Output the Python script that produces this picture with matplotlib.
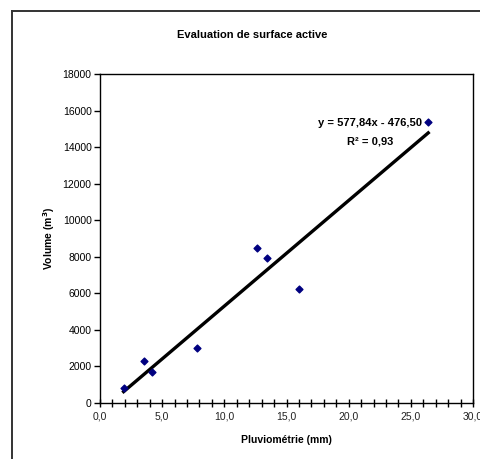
import numpy as np
import matplotlib
matplotlib.use("Agg")
import matplotlib.pyplot as plt
import matplotlib.ticker as mticker
from matplotlib.lines import Line2D

plt.rcParams["font.family"] = ["Liberation Sans", "DejaVu Sans"]

# data
pluvio = [1.9, 3.5, 4.2, 7.8, 12.6, 13.4, 16.0, 26.4]
volume = [800, 2300, 1700, 3000, 8500, 7950, 6250, 15400]
slope = 577.84
intercept = -476.50
r2 = 0.93

fig = plt.figure(figsize=(4.81, 4.59), dpi=100)
fig.patch.set_facecolor("white")

# outer chart border (left and top visible)
fig.add_artist(Line2D([12 / 481, 12 / 481], [0, 1 - 11 / 459],
                      transform=fig.transFigure, color="#333333", lw=1.4))
fig.add_artist(Line2D([12 / 481, 1], [1 - 11 / 459, 1 - 11 / 459],
                      transform=fig.transFigure, color="#333333", lw=1.4))

ax = fig.add_axes([100 / 481, 1 - 403 / 459, 373 / 481, 329 / 459])

ax.scatter(pluvio, volume, marker="D", s=12, color="#000080", zorder=3)

xs = np.array([min(pluvio), max(pluvio)])
ax.plot(xs, slope * xs + intercept, color="black", lw=2.4, zorder=2)

ax.set_xlim(0, 30)
ax.set_ylim(0, 18000)
ax.xaxis.set_major_locator(mticker.MultipleLocator(5))
ax.xaxis.set_minor_locator(mticker.MultipleLocator(1))
ax.yaxis.set_major_locator(mticker.MultipleLocator(2000))
ax.xaxis.set_major_formatter(
    mticker.FuncFormatter(lambda v, p: f"{v:.1f}".replace(".", ",")))

for sp in ax.spines.values():
    sp.set_color("black")
    sp.set_linewidth(1.0)

ax.tick_params(axis="x", which="both", direction="inout", length=6,
               width=1, labelsize=7.5, colors="black", pad=3)
ax.tick_params(axis="y", which="major", direction="out", length=4,
               width=1, labelsize=7.5, colors="black", pad=2)
ax.tick_params(axis="x", which="major", labelcolor="#222222")

ax.set_xlabel("Pluviométrie (mm)", fontsize=7.5, fontweight="bold", labelpad=10)
ax.set_ylabel("Volume (m$^{\\mathbf{3}}$)", fontsize=7.5, fontweight="bold", labelpad=4)

ax.text(0.863, 0.851, f"y = {slope:.2f}x - {abs(intercept):.2f}".replace(".", ","),
        transform=ax.transAxes, ha="right", va="center",
        fontsize=8, fontweight="bold")
ax.text(0.725, 0.795, f"R² = {r2:.2f}".replace(".", ","),
        transform=ax.transAxes, ha="center", va="center",
        fontsize=8, fontweight="bold")

fig.text(252 / 481, 1 - 35 / 459, "Evaluation de surface active",
         ha="center", va="center", fontsize=8, fontweight="bold")

fig.savefig("out.png", dpi=100, facecolor="white")
